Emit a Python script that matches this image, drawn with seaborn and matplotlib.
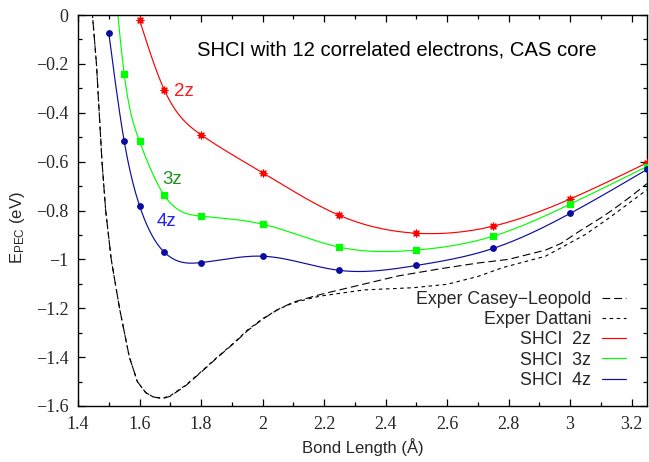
import numpy as np
import matplotlib
matplotlib.use("Agg")
import matplotlib.pyplot as plt
import seaborn as sns
from matplotlib.ticker import MultipleLocator

# SHCI points (bond length in A, energy in eV)
x_2z = [1.60, 1.68, 1.80, 2.00, 2.25, 2.50, 2.75, 3.00, 3.25]
e_2z = [-0.02, -0.305, -0.49, -0.645, -0.82, -0.893, -0.864, -0.753, -0.605]

x_3z = [1.50, 1.55, 1.60, 1.68, 1.80, 2.00, 2.25, 2.50, 2.75, 3.00, 3.25]
e_3z = [0.45, -0.24, -0.517, -0.737, -0.823, -0.856, -0.95, -0.962, -0.905, -0.774, -0.62]

x_4z = [1.50, 1.55, 1.60, 1.68, 1.80, 2.00, 2.25, 2.50, 2.75, 3.00, 3.25]
e_4z = [-0.072, -0.515, -0.78, -0.97, -1.013, -0.987, -1.045, -1.025, -0.955, -0.812, -0.632]

# experimental curves
x_cl = [1.435, 1.447, 1.46, 1.478, 1.49, 1.508, 1.535, 1.567, 1.593, 1.62, 1.645, 1.675,
        1.70, 1.75, 1.80, 1.85, 1.91, 1.95, 2.00, 2.05, 2.10, 2.17, 2.20, 2.28, 2.35,
        2.44, 2.50, 2.58, 2.70, 2.80, 2.92, 2.97, 3.03, 3.10, 3.14, 3.20, 3.25]
e_cl = [0.08, 0.0, -0.2, -0.6, -0.8, -1.0, -1.2, -1.4, -1.5, -1.545, -1.563, -1.57,
        -1.56, -1.517, -1.462, -1.405, -1.34, -1.293, -1.245, -1.205, -1.175, -1.15, -1.14, -1.116, -1.095,
        -1.068, -1.055, -1.038, -1.015, -1.0, -0.962, -0.935, -0.885, -0.83, -0.796, -0.74, -0.69]

x_da = [1.435, 1.447, 1.46, 1.478, 1.49, 1.508, 1.535, 1.567, 1.593, 1.62, 1.645, 1.675,
        1.70, 1.75, 1.80, 1.85, 1.91, 1.95, 2.00, 2.05, 2.10, 2.17, 2.20, 2.33, 2.49,
        2.60, 2.70, 2.78, 2.92, 3.05, 3.135, 3.20, 3.25]
e_da = [0.08, 0.0, -0.2, -0.6, -0.8, -1.0, -1.2, -1.4, -1.5, -1.545, -1.563, -1.568,
        -1.558, -1.515, -1.46, -1.403, -1.338, -1.29, -1.243, -1.205, -1.178, -1.155, -1.148, -1.125, -1.116,
        -1.102, -1.07, -1.034, -0.987, -0.898, -0.823, -0.762, -0.715]


def cspline(x, y, n=400):
    # natural cubic spline through the points, like gnuplot "smooth csplines"
    x = np.asarray(x, float)
    y = np.asarray(y, float)
    m = len(x)
    h = np.diff(x)
    A = np.zeros((m, m))
    b = np.zeros(m)
    A[0, 0] = A[-1, -1] = 1
    for i in range(1, m - 1):
        A[i, i - 1] = h[i - 1]
        A[i, i] = 2 * (h[i - 1] + h[i])
        A[i, i + 1] = h[i]
        b[i] = 6 * ((y[i + 1] - y[i]) / h[i] - (y[i] - y[i - 1]) / h[i - 1])
    M = np.linalg.solve(A, b)
    xs = np.linspace(x[0], x[-1], n)
    k = np.clip(np.searchsorted(x, xs) - 1, 0, m - 2)
    t1 = x[k + 1] - xs
    t0 = xs - x[k]
    hk = h[k]
    ys = (M[k] * t1 ** 3 + M[k + 1] * t0 ** 3) / (6 * hk) \
        + (y[k] / hk - M[k] * hk / 6) * t1 + (y[k + 1] / hk - M[k + 1] * hk / 6) * t0
    return xs, ys


sns.set_theme(style="white")
plt.rcParams['font.family'] = ['Liberation Sans', 'DejaVu Sans']
plt.rcParams['mathtext.default'] = 'regular'
plt.rcParams['axes.unicode_minus'] = True

fig = plt.figure(figsize=(6.49, 4.62), dpi=100)
ax = fig.add_axes([78 / 649, 1 - 406 / 462, (647 - 78) / 649, (406 - 15) / 462])

red, green, blue = '#ff0000', '#00ff00', '#0c0ca0'

sns.lineplot(x=x_cl, y=e_cl, ax=ax, color='black', linewidth=0.8, sort=False,
             linestyle=(0, (7, 3.5)), label='Exper Casey\u2212Leopold')
sns.lineplot(x=x_da, y=e_da, ax=ax, color='black', linewidth=0.8, sort=False,
             linestyle=(0, (3.2, 3.2)), label='Exper Dattani')

for xv, ev, col, mk, ms, lab in [(x_2z, e_2z, red, (8, 2, 0), 24, 'SHCI  2z'),
                                 (x_3z, e_3z, green, 's', 24, 'SHCI  3z'),
                                 (x_4z, e_4z, blue, 'o', 16, 'SHCI  4z')]:
    xs, ys = cspline(xv, ev)
    sns.lineplot(x=xs, y=ys, ax=ax, color=col, linewidth=0.85, label=lab)
    sns.scatterplot(x=xv, y=ev, ax=ax, color=col, marker=mk, s=ms,
                    edgecolor=col, linewidth=0.9, zorder=5)

ax.set_xlim(1.4, 3.25)
ax.set_ylim(-1.6, 0)
ax.xaxis.set_minor_locator(MultipleLocator(0.1))
ax.yaxis.set_minor_locator(MultipleLocator(0.1))
ax.set_xticks(np.arange(1.4, 3.21, 0.2))
ax.set_xticklabels(['1.4', '1.6', '1.8', '2', '2.2', '2.4', '2.6', '2.8', '3', '3.2'])
ax.set_yticks(np.arange(-1.6, 0.01, 0.2))
ax.set_yticklabels(['\u22121.6', '\u22121.4', '\u22121.2', '\u22121', '\u22120.8',
                    '\u22120.6', '\u22120.4', '\u22120.2', '0'])
ax.tick_params(which='both', direction='in', top=True, right=True, bottom=True, left=True,
               width=0.9, color='black', pad=7)
ax.tick_params(which='major', length=5)
ax.tick_params(which='minor', length=3)
for lab in ax.get_xticklabels() + ax.get_yticklabels():
    lab.set_family('Liberation Serif')
    lab.set_fontsize(13)
for s in ax.spines.values():
    s.set_color('black')
    s.set_linewidth(1.0)

ax.set_xlabel('Bond Length (\u00c5)', fontsize=12, labelpad=4)
ax.set_ylabel('E$_{PEC}$ (eV)', fontsize=12)
ax.yaxis.set_label_coords(-0.09, 0.455)

ax.text(1.786, -0.143, 'SHCI with 12 correlated electrons, CAS core', fontsize=14.6,
        ha='left', va='center', color='black')
ax.text(1.745, -0.314, '2z', fontsize=13.5, color='#ff1a1a', ha='center', va='center')
ax.text(1.706, -0.673, '3z', fontsize=13.5, color='#1f8f1f', ha='center', va='center')
ax.text(1.687, -0.843, '4z', fontsize=13.5, color='#2020ff', ha='center', va='center')

handles, labels = ax.get_legend_handles_labels()
ax.legend(handles, labels, loc='upper right', bbox_to_anchor=(0.963, 0.294),
          frameon=False, markerfirst=False, fontsize=12.8, handlelength=1.35,
          handletextpad=0.6, labelspacing=0.18, borderpad=0, borderaxespad=0)

fig.savefig('out.png', dpi=100)
